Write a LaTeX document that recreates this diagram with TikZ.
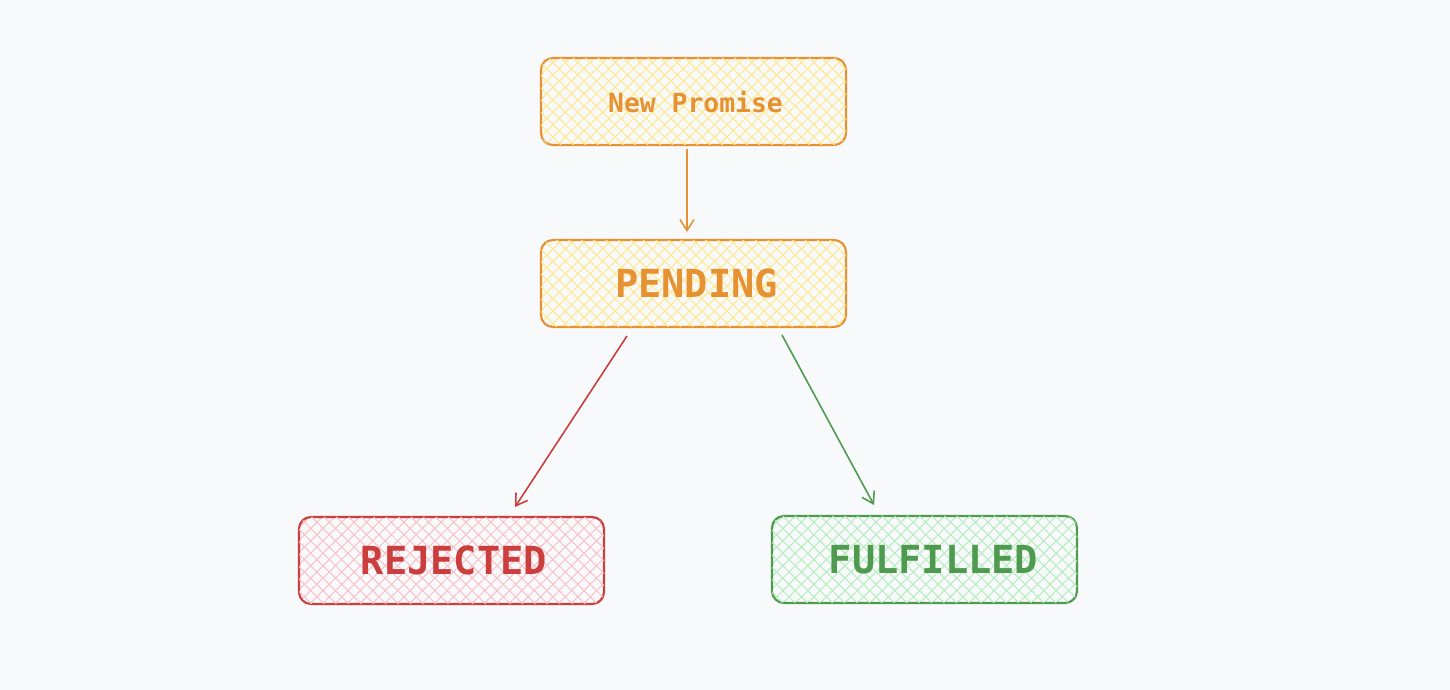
\documentclass[tikz,border=0pt]{standalone}
\usepackage{fontspec}
\setmonofont{DejaVu Sans Mono}
\usetikzlibrary{positioning,arrows.meta,patterns.meta}

\definecolor{bgcol}{HTML}{F8F9FB}
\definecolor{orng}{HTML}{E69232}
\definecolor{orngfill}{HTML}{FFE98C}
\definecolor{redd}{HTML}{CC3D3D}
\definecolor{reddfill}{HTML}{F8C2C8}
\definecolor{grn}{HTML}{4E9A4E}
\definecolor{grnfill}{HTML}{B6EDBE}

\tikzset{
	hatch/.style = {
		preaction = {pattern = {Lines[angle=45, distance=5pt, line width=0.6pt]}, pattern color=#1},
		postaction = {pattern = {Lines[angle=-45, distance=5pt, line width=0.6pt]}, pattern color=#1}
	},
	state/.style = {
		draw, rectangle, rounded corners=0.24cm,
		line width=1.2pt,
		minimum width=6.1cm, minimum height=1.74cm,
		inner sep=0cm, outer sep=0cm,
		font=\ttfamily\bfseries
	}
}

\begin{document}
\begin{tikzpicture}[
		>={Straight Barb[length=2.2mm, width=2.8mm]},
		link/.style = {->, line width=0.9pt}
		]
		\fill[bgcol] (0,0) rectangle (29,13.8);
		\node [state, hatch=orngfill, draw=orng, text=orng, font=\ttfamily\bfseries\fontsize{15}{18}\selectfont] (new) at (13.87,11.77) {\hspace*{0.08cm}New Promise};
		\node [state, hatch=orngfill, draw=orng, text=orng, font=\ttfamily\bfseries\fontsize{22}{26}\selectfont, below=1.9cm of new] (pend) {\hspace*{0.12cm}PENDING};
		\node [state, hatch=reddfill, draw=redd, text=redd, font=\ttfamily\bfseries\fontsize{22}{26}\selectfont, below=3.8cm of pend, xshift=-4.84cm] (rej) {\hspace*{0.1cm}REJECTED};
		\node [state, hatch=grnfill, draw=grn, text=grn, font=\ttfamily\bfseries\fontsize{22}{26}\selectfont, below=3.78cm of pend, xshift=4.62cm] (ful) {\hspace*{0.36cm}FULFILLED};
		\draw[link, orng] ([xshift=-0.13cm, yshift=-0.08cm]new.south) -- ([xshift=-0.13cm, yshift=0.16cm]pend.north);
		\draw[link, redd] ([xshift=-1.33cm, yshift=-0.18cm]pend.south) -- ([xshift=1.27cm, yshift=0.2cm]rej.north);
		\draw[link, grn] ([xshift=1.77cm, yshift=-0.16cm]pend.south) -- ([xshift=-1.01cm, yshift=0.22cm]ful.north);
	\end{tikzpicture}
\end{document}
